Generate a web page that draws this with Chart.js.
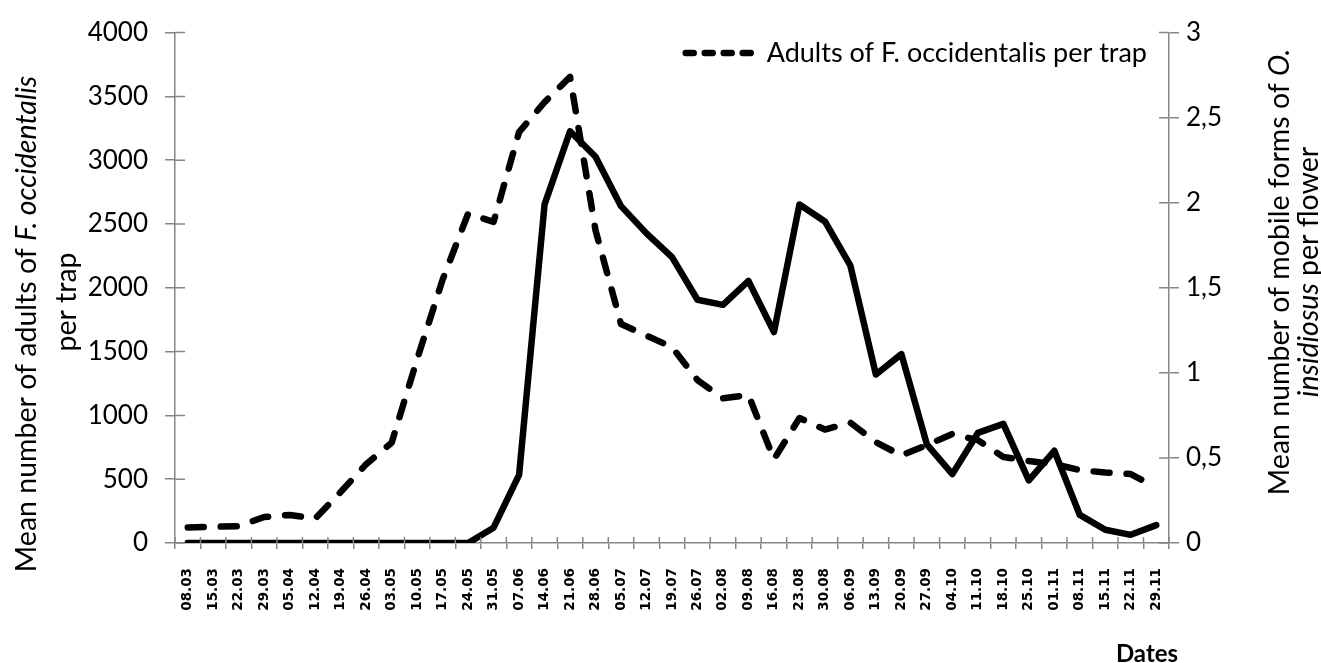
<!DOCTYPE html>
<html>
<head>
<meta charset="utf-8">
<script src="https://cdn.jsdelivr.net/npm/chart.js@4.4.0/dist/chart.umd.min.js"></script>
<style>
  html, body { margin: 0; padding: 0; background: #fff; }
  #wrap { width: 1321px; height: 663px; }
</style>
</head>
<body>
<div id="wrap"><canvas id="myChart" width="1321" height="663"></canvas></div>
<script>
// sampling dates (dd.mm)
const dates = ['08.03','15.03','22.03','29.03','05.04','12.04','19.04','26.04','03.05','10.05',
  '17.05','24.05','31.05','07.06','14.06','21.06','28.06','05.07','12.07','19.07',
  '26.07','02.08','09.08','16.08','23.08','30.08','06.09','13.09','20.09','27.09',
  '04.10','11.10','18.10','25.10','01.11','08.11','15.11','22.11','29.11'];

// adults of F. occidentalis per trap (left axis, dashed)
const thripsPerTrap = [122, 127, 132, 204, 220, 191, 400, 618, 786, 1440,
  2064, 2581, 2517, 3220, 3455, 3653, 2450, 1716, 1625, 1535,
  1277, 1134, 1160, 656, 979, 889, 943, 790, 686, 767,
  855, 806, 674, 643, 618, 571, 553, 540, 436];

// mobile forms of O. insidiosus per flower (right axis, solid)
const oriusPerFlower = [0, 0, 0, 0, 0, 0, 0, 0, 0, 0,
  0, 0, 0.09, 0.40, 1.99, 2.42, 2.27, 1.98, 1.82, 1.68,
  1.43, 1.40, 1.54, 1.24, 1.99, 1.89, 1.63, 0.99, 1.11, 0.58,
  0.405, 0.647, 0.70, 0.368, 0.542, 0.165, 0.078, 0.048, 0.105];

const leftMax = 4000, leftStep = 500;
const rightMax = 3, rightStep = 0.5;

const axisGrey = '#868686';
const txtFont = 'Lato, "Open Sans", sans-serif';

// ticks in Excel style cross the axis line: draw the inner half too
const crossTicks = {
  id: 'crossTicks',
  afterDraw(chart) {
    const ctx = chart.ctx;
    const a = chart.chartArea;
    ctx.save();
    ctx.strokeStyle = axisGrey;
    ctx.lineWidth = 1.5;
    ctx.beginPath();
    chart.scales.y.ticks.forEach((t) => {
      const py = chart.scales.y.getPixelForValue(t.value);
      ctx.moveTo(a.left, py); ctx.lineTo(a.left + 10, py);
    });
    chart.scales.y1.ticks.forEach((t) => {
      const py = chart.scales.y1.getPixelForValue(t.value);
      ctx.moveTo(a.right - 10, py); ctx.lineTo(a.right, py);
    });
    const xs = chart.scales.x;
    for (let i = 0; i <= dates.length; i++) {
      const px = xs.getPixelForValue(i - 0.5);
      ctx.moveTo(px, a.bottom - 6); ctx.lineTo(px, a.bottom);
    }
    ctx.stroke();
    ctx.restore();
  }
};

// rotated axis titles with italic species names
function drawRuns(ctx, runs, cx, cy, size) {
  ctx.save();
  ctx.translate(cx, cy);
  ctx.rotate(-Math.PI / 2);
  ctx.fillStyle = '#000';
  ctx.textBaseline = 'middle';
  let total = 0;
  runs.forEach((r) => {
    ctx.font = (r.it ? 'italic ' : '') + size + 'px ' + txtFont;
    r.w = ctx.measureText(r.t).width;
    total += r.w;
  });
  let x = -total / 2;
  runs.forEach((r) => {
    ctx.font = (r.it ? 'italic ' : '') + size + 'px ' + txtFont;
    ctx.fillText(r.t, x, 0);
    x += r.w;
  });
  ctx.restore();
}

const axisTitles = {
  id: 'axisTitles',
  afterDraw(chart) {
    const ctx = chart.ctx;
    drawRuns(ctx, [{t: 'Mean number of adults of '}, {t: 'F. occidentalis', it: true}], 27, 324, 28.5);
    drawRuns(ctx, [{t: 'per trap'}], 67, 302, 28.5);
    drawRuns(ctx, [{t: 'Mean number of mobile forms of '}, {t: 'O.', it: true}], 1280, 272, 28.5);
    drawRuns(ctx, [{t: 'insidiosus', it: true}, {t: ' per flower'}], 1309, 272, 28.5);
    ctx.save();
    ctx.font = 'bold 24px ' + txtFont;
    ctx.fillStyle = '#000';
    ctx.textAlign = 'center';
    ctx.textBaseline = 'middle';
    ctx.fillText('Dates', 1147, 654);
    ctx.restore();
  }
};

// legend for the dashed series only, top right inside the plot
const trapLegend = {
  id: 'trapLegend',
  afterDraw(chart) {
    const ds = chart.data.datasets[0];
    const ctx = chart.ctx;
    ctx.save();
    ctx.font = '27px ' + txtFont;
    const textEnd = 1147, cy = 53;
    const tw = ctx.measureText(ds.label).width;
    const tx = textEnd - tw;
    ctx.fillStyle = '#000';
    ctx.textBaseline = 'middle';
    ctx.fillText(ds.label, tx, cy);
    ctx.strokeStyle = ds.borderColor;
    ctx.lineWidth = ds.borderWidth;
    ctx.lineCap = 'round';
    ctx.setLineDash([8, 11]);
    ctx.beginPath();
    ctx.moveTo(tx - 8 - 76 + 3, cy);
    ctx.lineTo(tx - 8, cy);
    ctx.stroke();
    ctx.restore();
  }
};

const ctx = document.getElementById('myChart').getContext('2d');
const myChart = new Chart(ctx, {
  type: 'line',
  data: {
    labels: dates,
    datasets: [{
      label: 'Adults of F. occidentalis per trap',
      data: thripsPerTrap,
      yAxisID: 'y',
      borderColor: '#000',
      borderWidth: 6.5,
      borderDash: [16, 17],
      borderCapStyle: 'round',
      borderJoinStyle: 'round',
      pointRadius: 0,
      tension: 0
    }, {
      label: 'O. insidiosus per flower',
      data: oriusPerFlower,
      yAxisID: 'y1',
      borderColor: '#000',
      borderWidth: 6.5,
      borderCapStyle: 'round',
      borderJoinStyle: 'round',
      pointRadius: 0,
      tension: 0
    }]
  },
  options: {
    responsive: false,
    animation: false,
    layout: { padding: { top: 27, left: 0, right: 0, bottom: 0 } },
    plugins: {
      tooltip: { enabled: false },
      legend: { display: false }
    },
    scales: {
      x: {
        offset: true,
        border: { color: axisGrey, width: 1.5 },
        grid: { offset: true, drawOnChartArea: false, color: axisGrey, lineWidth: 1.5, tickLength: 6 },
        ticks: {
          autoSkip: false, minRotation: 90, maxRotation: 90, padding: 19,
          color: '#000', font: { family: '"DejaVu Sans", sans-serif', size: 13.5, weight: 'bold' }
        },
        afterFit: (s) => { s.height = 120; }
      },
      y: {
        position: 'left',
        min: 0, max: leftMax,
        border: { color: axisGrey, width: 1.5 },
        grid: { drawOnChartArea: false, color: axisGrey, lineWidth: 1.5, tickLength: 10 },
        ticks: {
          stepSize: leftStep, padding: 17, color: '#000', font: { family: txtFont, size: 26 },
          callback: (v) => String(v)
        },
        afterFit: (s) => { s.width = 175; }
      },
      y1: {
        position: 'right',
        min: 0, max: rightMax,
        border: { color: axisGrey, width: 1.5 },
        grid: { drawOnChartArea: false, color: axisGrey, lineWidth: 1.5, tickLength: 10 },
        ticks: {
          stepSize: rightStep, padding: 7, color: '#000', font: { family: txtFont, size: 26 },
          callback: (v) => String(v).replace('.', ',')
        },
        afterFit: (s) => { s.width = 152; }
      }
    }
  },
  plugins: [crossTicks, axisTitles, trapLegend]
});
</script>
</body>
</html>
